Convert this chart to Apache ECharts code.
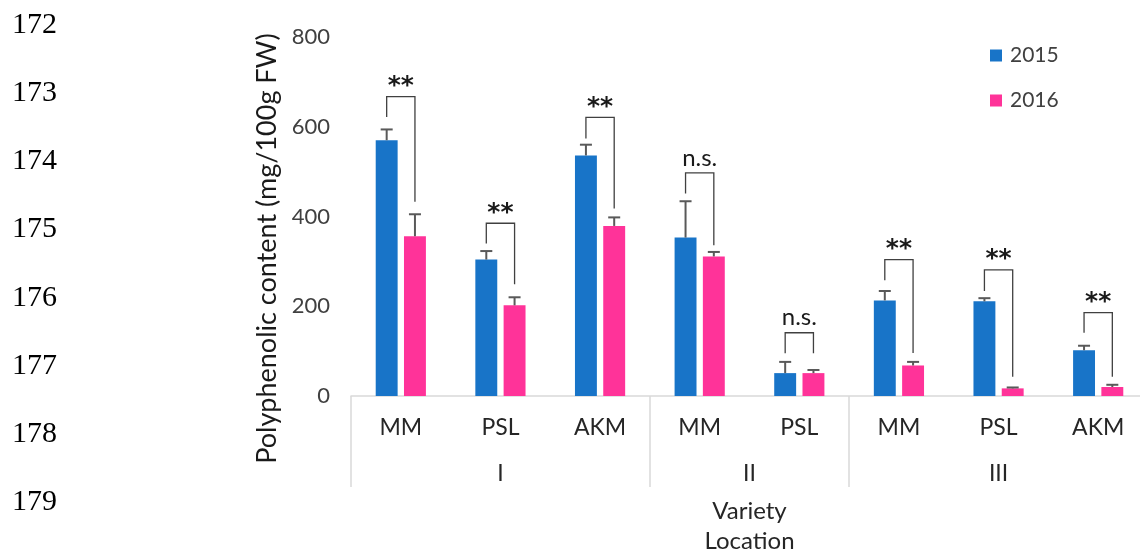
<!DOCTYPE html>
<html><head><meta charset="utf-8">
<script src="https://cdn.jsdelivr.net/npm/echarts@6/dist/echarts.min.js"></script>
<style>html,body{margin:0;padding:0;background:#fff}#c{width:1140px;height:553px}</style>
</head><body><div id="c"></div>
<script>
const varieties = ['MM','PSL','AKM','MM','PSL','MM','PSL','AKM'];
const locations = ['I','II','III'];
const locationSizes = [3,2,3];
const years = ['2015','2016'];
const values2015 = [570, 304, 536, 353, 51, 213, 211, 102];
const values2016 = [356, 202, 379, 311, 51, 68, 17, 20];
const err2015 = [24, 19, 24, 81, 25, 21, 7, 10];
const err2016 = [49, 18, 19, 10, 7, 8, 2, 5];
const sigLabels = ['**','**','**','n.s.','n.s.','**','**','**'];
const bracketTop = [667, 385, 621, 497, 141, 304, 281, 186];
const bracketLeftEnd = [622, 340, 574, 451, 95, 258, 234, 141];
const bracketRightEnd = [433, 249, 418, 336, 95, 96, 43, 43];
const yMin = 0, yMax = 800, yStep = 200;
const lineNumbers = ['172','173','174','175','176','177','178','179'];

const colors = ['#1874c8', '#ff3399'];
const FONT = 'Lato';
const BAR_W = 0.22, BAR_GAP = 0.29;

// group boundaries and group-label slots
const boundaries = [];
const slots = new Array(varieties.length * 2 + 1).fill('');
let start = 0;
locations.forEach((loc, i) => {
  boundaries.push(start);
  slots[start * 2 + locationSizes[i]] = loc;
  start += locationSizes[i];
});
boundaries.push(start);

function barOffset(api) {
  const band = api.size([1, 0])[0];
  const bw = band * BAR_W;
  return (bw + bw * BAR_GAP) / 2;
}

function errRender(sign) {
  return function (params, api) {
    const idx = api.value(0), v = api.value(1), e = api.value(2);
    const off = barOffset(api) * sign;
    const p1 = api.coord([idx, v]);
    const p2 = api.coord([idx, v + e]);
    const x = p1[0] + off;
    const style = { stroke: '#595959', lineWidth: 2 };
    return { type: 'group', children: [
      { type: 'line', shape: { x1: x, y1: p1[1], x2: x, y2: p2[1] }, style },
      { type: 'line', shape: { x1: x - 6, y1: p2[1], x2: x + 6, y2: p2[1] }, style }
    ]};
  };
}

function bracketRender(params, api) {
  const idx = api.value(0);
  const off = barOffset(api);
  const c = api.coord([idx, api.value(1)]);
  const yl = api.coord([idx, api.value(2)])[1];
  const yr = api.coord([idx, api.value(3)])[1];
  const xl = c[0] - off, xr = c[0] + off;
  const label = sigLabels[params.dataIndex];
  const isStar = label === '**';
  return { type: 'group', children: [
    { type: 'polyline', shape: { points: [[xl, yl], [xl, c[1]], [xr, c[1]], [xr, yr]] },
      style: { stroke: '#404040', lineWidth: 1.3, fill: null } },
    { type: 'text', style: { text: label, x: (xl + xr) / 2, y: c[1] - (isStar ? 10 : 15),
      align: 'center', verticalAlign: 'middle', fill: '#1a1a1a',
      font: isStar ? 'bold 25px "DejaVu Sans"' : ('24px ' + FONT) } }
  ]};
}

const chart = echarts.init(document.getElementById('c'), null, { renderer: 'canvas' });
chart.setOption({
  animation: false,
  backgroundColor: '#fff',
  textStyle: { fontFamily: FONT },
  grid: { left: 351, top: 37, width: 797, bottom: 157, containLabel: false, outerBoundsMode: 'none' },
  legend: {
    data: years, orient: 'vertical', left: 985, top: 40,
    itemWidth: 12, itemHeight: 12, itemGap: 24, icon: 'rect',
    textStyle: { fontSize: 21, color: '#404040', fontFamily: FONT, padding: [0, 0, 0, 3] }
  },
  xAxis: [{
    type: 'category', data: varieties, position: 'bottom',
    axisLine: { lineStyle: { color: '#d9d9d9', width: 1.5 } },
    axisTick: { show: true, length: 91, interval: (i) => boundaries.indexOf(i) >= 0,
      lineStyle: { color: '#d9d9d9', width: 1.5 } },
    axisLabel: { interval: 0, margin: 20, fontSize: 23, color: '#262626', fontFamily: FONT },
    name: 'Variety\nLocation', nameLocation: 'middle', nameGap: 100,
    nameTextStyle: { fontSize: 24, lineHeight: 30, color: '#262626', fontFamily: FONT }
  }, {
    type: 'category', data: slots, position: 'bottom', boundaryGap: false,
    axisLine: { show: false }, axisTick: { show: false },
    axisLabel: { interval: 0, margin: 66, fontSize: 23, color: '#262626', fontFamily: FONT }
  }],
  yAxis: {
    type: 'value', min: yMin, max: yMax, interval: yStep,
    axisLine: { show: false }, axisTick: { show: false }, splitLine: { show: false },
    axisLabel: { margin: 21, fontSize: 22, color: '#404040', fontFamily: FONT },
    name: 'Polyphenolic content (mg/100g FW)', nameLocation: 'middle', nameRotate: 90, nameGap: 70,
    nameTextStyle: { fontSize: 27, color: '#1a1a1a', fontFamily: FONT, padding: [0, 64, 0, 0] }
  },
  series: [
    { name: years[0], type: 'bar', data: values2015, barWidth: (BAR_W * 100) + '%', barGap: (BAR_GAP * 100) + '%',
      itemStyle: { color: colors[0] } },
    { name: years[1], type: 'bar', data: values2016, barWidth: (BAR_W * 100) + '%', barGap: (BAR_GAP * 100) + '%',
      itemStyle: { color: colors[1] } },
    { name: 'err' + years[0], type: 'custom', renderItem: errRender(-1), z: 5,
      data: values2015.map((v, i) => [i, v, err2015[i]]) },
    { name: 'err' + years[1], type: 'custom', renderItem: errRender(1), z: 5,
      data: values2016.map((v, i) => [i, v, err2016[i]]) },
    { name: 'sig', type: 'custom', renderItem: bracketRender, z: 6,
      data: bracketTop.map((t, i) => [i, t, bracketLeftEnd[i], bracketRightEnd[i]]) }
  ],
  graphic: lineNumbers.map((t, i) => ({
    type: 'text', left: 12, top: 25 + i * 68.2 - 15,
    style: { text: t, font: '30px "Liberation Serif"', fill: '#000' }
  }))
});
</script></body></html>
